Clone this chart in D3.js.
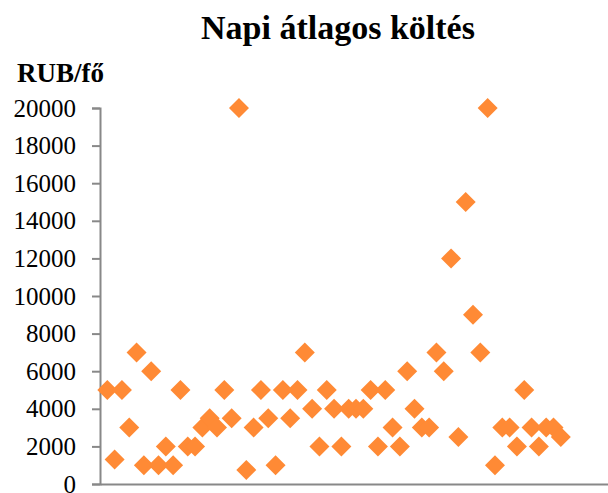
<!DOCTYPE html>
<head>
  <meta charset="utf-8">
  <script src="https://d3js.org/d3.v7.min.js"></script>
  <style>
    body { margin:0; background:#fff; }
    text { font-family: "Liberation Serif", "Times New Roman", serif; fill:#000; }
  </style>
</head>
<body>
<script>

  // daily average spend per respondent (RUB), one point per respondent
  var respondent = d3.range(1, 64);
  var spend = [5000, 1300, 5000, 3000, 7000, 1000, 6000, 1000, 2000, 1000,
               5000, 2000, 2000, 3000, 3500, 3000, 5000, 3500, 20000, 750,
               3000, 5000, 3500, 1000, 5000, 3500, 5000, 7000, 4000, 2000,
               5000, 4000, 2000, 4000, 4000, 4000, 5000, 2000, 5000, 3000,
               2000, 6000, 4000, 3000, 3000, 7000, 6000, 12000, 2500, 15000,
               9000, 7000, 20000, 1000, 3000, 3000, 2000, 5000, 3000, 2000,
               3000, 3000, 2500];
  var yTicks = d3.range(0, 20001, 2000);

  var width = 608, height = 493;

  var x = d3.scaleLinear().domain([0, 70]).range([100, 612]);
  var y = d3.scaleLinear().domain([0, 20000]).range([484, 108]);

  var svg = d3.select("body").append("svg")
    .attr("width", width)
    .attr("height", height);

  svg.append("text")
    .attr("x", 338)
    .attr("y", 39)
    .attr("text-anchor", "middle")
    .style("font-size", "34px")
    .style("font-weight", "bold")
    .text("Napi átlagos költés");

  svg.append("text")
    .attr("x", 17)
    .attr("y", 82)
    .style("font-size", "27px")
    .style("font-weight", "bold")
    .text("RUB/fő");

  var yAxis = svg.append("g")
    .attr("transform", "translate(100,0)")
    .call(d3.axisLeft(y).tickValues(yTicks).tickSize(8).tickPadding(16).tickFormat(d3.format("d")));
  yAxis.selectAll("text").style("font-size", "25px");

  var xAxis = svg.append("g")
    .attr("transform", "translate(0,484)")
    .call(d3.axisBottom(x).tickValues([]).tickSize(0));

  svg.selectAll(".domain").attr("stroke", "#888").attr("stroke-width", 2);
  yAxis.selectAll(".tick line").attr("stroke", "#888").attr("stroke-width", 2);

  var diamond = d3.symbol().type(d3.symbolSquare).size(200);

  svg.append("g")
    .selectAll("path")
    .data(spend)
    .enter().append("path")
    .attr("d", diamond)
    .attr("transform", function(d, i) {
      return "translate(" + x(respondent[i]) + "," + y(d) + ") rotate(45)";
    })
    .attr("fill", "#ff8a35");

</script>
</body>
